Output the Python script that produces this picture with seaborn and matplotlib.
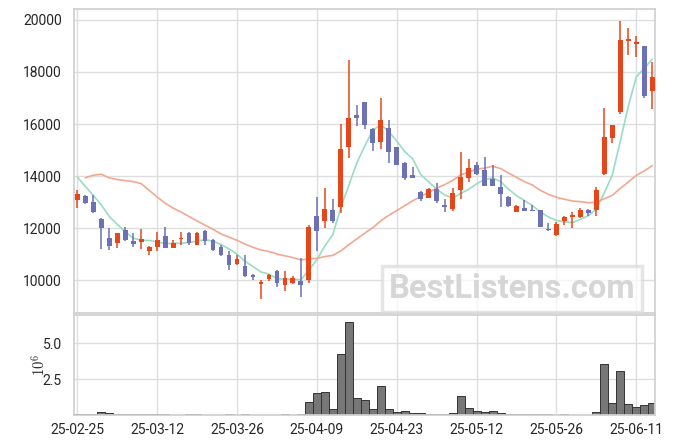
import numpy as np
import pandas as pd
import matplotlib
matplotlib.use("Agg")
import matplotlib.pyplot as plt
import seaborn as sns

# trading days (KRX holidays removed)
holidays = ["2025-03-03", "2025-05-01", "2025-05-05", "2025-05-06", "2025-06-03", "2025-06-06"]
dates = pd.bdate_range("2025-02-25", "2025-06-13")
dates = dates[~dates.isin(pd.to_datetime(holidays))]

opens = [13070, 13250, 13010, 12360, 11630, 11440, 11930, 11520, 11480, 11130,
         11290, 11700, 11250, 11570, 11820, 11370, 11900, 11550, 11300, 10990,
         10630, 10540, 10190, 9860, 10040, 10350, 9830, 9900, 9960, 10000,
         12480, 12290, 12710, 12810, 15120, 16340, 16830, 15800, 15320, 15840,
         15100, 14510, 14060, 13400, 13180, 13500, 12900, 12740, 13450, 13910,
         14440, 14240, 13900, 13580, 13190, 12640, 12780, 12720, 12690, 11990,
         11730, 12280, 12440, 12430, 12700, 12710, 14090, 15480, 16480, 19190,
         19060, 19000, 17280]
highs = [13480, 13290, 13290, 12390, 12000, 11820, 12050, 11830, 11970, 11330,
         11870, 12040, 11540, 11850, 11870, 11870, 11930, 11570, 11340, 11110,
         10970, 10960, 10260, 10030, 10230, 10390, 10350, 10150, 10840, 12130,
         13210, 13560, 13120, 15990, 18440, 16730, 16860, 15850, 16990, 16140,
         15130, 14540, 14360, 13420, 13560, 13730, 13130, 13540, 14920, 14650,
         14540, 14730, 14440, 14050, 13220, 12900, 13080, 12890, 12720, 12220,
         12250, 12480, 12630, 12760, 12730, 13570, 16610, 15970, 19970, 19680,
         19360, 19000, 18370]
lows = [12770, 12930, 12600, 11190, 11150, 11250, 11500, 11290, 11190, 10960,
        11120, 11250, 11250, 11350, 11370, 11370, 11350, 11120, 10920, 10410,
        10580, 10130, 10000, 9280, 9970, 9740, 9610, 9870, 9350, 9910,
        11110, 12000, 12190, 12600, 14710, 15930, 15800, 14960, 15050, 14510,
        14410, 13840, 13920, 13060, 13150, 12960, 12620, 12680, 13130, 13760,
        14030, 13630, 13630, 12810, 12820, 12630, 12650, 12650, 12050, 11910,
        11700, 12140, 12010, 12410, 12460, 12480, 14050, 15260, 16390, 18640,
        18560, 17010, 16560]
closes = [13330, 12970, 12640, 12000, 11330, 11820, 11560, 11400, 11590, 11280,
          11550, 11250, 11420, 11630, 11420, 11820, 11520, 11150, 10960, 10590,
          10810, 10170, 10120, 9920, 10190, 9910, 10100, 10100, 9810, 12040,
          11910, 12730, 12280, 15030, 16250, 16240, 15970, 15290, 16150, 14920,
          14420, 13930, 13920, 13130, 13500, 13030, 12800, 13360, 13970, 14310,
          14080, 13640, 13640, 13300, 12850, 12850, 12670, 12680, 12060, 11920,
          12150, 12430, 12520, 12700, 12590, 13470, 15500, 15960, 19220, 19250,
          19130, 17080, 17810]
# volume in millions of shares
volumes = [0.06, 0.06, 0.06, 0.20, 0.14, 0.06, 0.06, 0.06, 0.06, 0.06,
           0.06, 0.06, 0.02, 0.02, 0.06, 0.06, 0.02, 0.02, 0.02, 0.06,
           0.02, 0.06, 0.02, 0.02, 0.02, 0.02, 0.06, 0.02, 0.06, 0.92,
           1.55, 1.63, 0.42, 4.30, 6.50, 1.20, 1.06, 0.42, 2.05, 0.42,
           0.20, 0.28, 0.14, 0.14, 0.06, 0.06, 0.06, 0.14, 1.34, 0.50,
           0.30, 0.20, 0.28, 0.14, 0.06, 0.06, 0.06, 0.06, 0.06, 0.06,
           0.02, 0.06, 0.02, 0.02, 0.02, 0.20, 3.60, 0.85, 3.10, 0.78,
           0.57, 0.70, 0.85]
# moving average values before the window fills
ma5_head = [13970, 13610, 13260, 12900]
ma20_head = [13935, 14036, 14075, 13935, 13870, 13830, 13790, 13715, 13455,
             13200, 12967, 12774, 12620, 12449, 12282, 12116, 11961, 11780]

UP = "#e5461a"
DOWN = "#6c70b4"

df = pd.DataFrame({"date": dates, "open": opens, "high": highs,
                   "low": lows, "close": closes, "volume": volumes})
df["idx"] = np.arange(len(df))
df["ma5"] = df["close"].rolling(5).mean()
df.loc[0:3, "ma5"] = ma5_head
df["ma20"] = df["close"].rolling(20).mean()
df.loc[1:18, "ma20"] = ma20_head

sns.set_theme(style="whitegrid")
plt.rcParams["font.family"] = ["Roboto", "DejaVu Sans"]
plt.rcParams["mathtext.fontset"] = "cm"
plt.rcParams["axes.edgecolor"] = "#d0d0d0"
plt.rcParams["grid.color"] = "#dedede"

fig = plt.figure(figsize=(6.75, 4.44), dpi=100)
ax = fig.add_axes([0.110, 0.294, 0.861, 0.686])
ax2 = fig.add_axes([0.110, 0.065, 0.861, 0.226])

up = df["close"] >= df["open"]
colors = np.where(up, UP, DOWN)

# wicks then bodies
ax.vlines(df["idx"], df["low"], df["high"], colors=colors, linewidth=1.1, zorder=3)
body = (df["close"] - df["open"]).abs().clip(lower=40)
bottom = df[["open", "close"]].min(axis=1)
ax.bar(df["idx"], body, bottom=bottom, width=0.6, color=colors, linewidth=0, zorder=4)

sns.lineplot(data=df, x="idx", y="ma5", ax=ax, color="#9adcc4", linewidth=1.2, zorder=2)
sns.lineplot(data=df.dropna(subset=["ma20"]), x="idx", y="ma20", ax=ax,
             color="#f2a890", linewidth=1.2, zorder=2)

ax.set_ylim(8730, 20420)
ax.set_yticks(range(10000, 20001, 2000))
ax.set_xlim(-0.38, 72.4)
ax.set_xticks(range(0, 71, 10))
ax.set_xticklabels([])
ax.set_xlabel("")
ax.set_ylabel("")
ax.tick_params(axis="y", labelsize=10, pad=3)
ax.tick_params(axis="x", length=0)

# volume panel
sns.barplot(data=df, x="idx", y="volume", ax=ax2, native_scale=True, width=1.0,
            color="#777777", edgecolor="#333333", linewidth=0.7, saturation=1)
ax2.set_xlim(-0.38, 72.4)
ax2.set_ylim(0, 7.0)
ax2.set_yticks([2.5, 5.0])
ax2.set_yticklabels(["2.5", "5.0"])
ax2.set_xticks(range(0, 71, 10))
ax2.set_xticklabels([df["date"][i].strftime("%y-%m-%d") for i in range(0, 71, 10)])
ax2.set_xlabel("")
ax2.set_ylabel(r"$10^6$", fontsize=10.5, labelpad=-4)
ax2.tick_params(axis="y", labelsize=10, pad=3)
ax2.tick_params(axis="x", labelsize=10, pad=0)

for a in (ax, ax2):
    for s in a.spines.values():
        s.set_color("#d0d0d0")

# watermark
fig.text(512 / 675, 1 - 289 / 444, "BestListens.com", ha="center", va="center",
         fontsize=23.5, fontweight="bold", color="#d6d6d6", family="Roboto",
         bbox=dict(boxstyle="square,pad=0.2", fc="white", ec="#dadada", lw=2.5, alpha=0.7),
         zorder=10)

fig.savefig("out.png", dpi=100)
